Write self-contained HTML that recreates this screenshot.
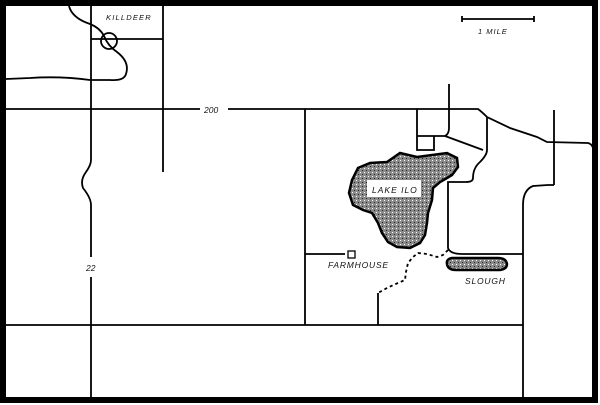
<!DOCTYPE html>
<html><head><style>
html,body{margin:0;padding:0;background:#fff;}
svg{display:block;}
text{font-family:"Liberation Sans",sans-serif;font-style:italic;fill:#111;}
</style></head><body>
<svg width="600" height="405" viewBox="0 0 600 405" xmlns="http://www.w3.org/2000/svg">
<defs>
<pattern id="st" width="4" height="4" patternUnits="userSpaceOnUse">
<rect width="4" height="4" fill="#8a8a8a"/>
<rect x="0" y="0" width="1" height="1" fill="#fff"/>
<rect x="2" y="2" width="1" height="1" fill="#222"/>
</pattern>
</defs>
<rect x="3" y="3" width="592" height="397" fill="none" stroke="#000" stroke-width="6"/>
<g fill="none" stroke="#000" stroke-width="1.8">
<path d="M6 109 H200 M228 109 H478 Q482 112 487 117 L510 128 L537 137 L547 142 L588 143 Q592 144 593 148"/>
<path d="M91 6 V160 Q91 165 86 172 Q80 180 83 188 Q91 198 91 205 V257 M91 277 V398"/>
<path d="M163 6 V172 M91 39 H163"/>
<circle cx="109" cy="41" r="8"/>
<path d="M69 6 Q72 18 90 24 Q100 28 104 36 Q108 46 117 52 Q130 62 126 74 Q124 81 110 80 Q96 80 90 80 Q60 76 30 78 L6 79"/>
<path d="M305 109 V325 M305 254 H345"/>
<rect x="348" y="251" width="7" height="7" stroke-width="1.3"/>
<path d="M6 325 H523"/>
<path d="M523 398 V205 Q523 190 533 186 L548 185 H554 M554 110 V185"/>
<path d="M417 109 V150 H434 V136 M417 136 H445 Q449 134 449 128 V84"/>
<path d="M445 136 L483 150 M487 117 V150 Q487 155 480 162 Q473 168 473 178 Q473 182 466 182 H448 V248 Q450 254 462 254 H523"/>
<path d="M378 293 V325"/>
<path d="M448 250 L443 255 L437 257 L427 254 L418 253 L413 257 L408 263 L406 272 L405 280 L398 283 L387 288 L378 293" stroke-dasharray="3 3"/>
<path d="M462 19 H534 M462 16 V22 M534 16 V22"/>
</g>
<path d="M400 153 L417 157 L447 153 L457 158 L458 167 L452 175 L447 178 L440 182 L433 188 L432 200 L428 213 L427 223 L425 235 L420 243 L410 248 L397 247 L388 242 L382 233 L378 223 L372 213 L363 210 L353 205 L349 193 L352 180 L358 168 L370 163 L387 162 Z" fill="url(#st)" stroke="#000" stroke-width="2.5"/>
<rect x="367" y="180" width="54" height="17" fill="#fff"/>
<path d="M452 258 Q446 259 447 264 Q448 270 456 270 L500 270 Q507 269 507 264 Q506 258 498 258 Z" fill="url(#st)" stroke="#000" stroke-width="2.5"/>
<g font-size="8.5">
<text x="106" y="20" letter-spacing="1.2" font-size="7.5">KILLDEER</text>
<text x="204" y="113">200</text>
<text x="86" y="271">22</text>
<text x="372" y="193" letter-spacing="1">LAKE ILO</text>
<text x="328" y="268" letter-spacing="0.8">FARMHOUSE</text>
<text x="465" y="284" letter-spacing="0.8">SLOUGH</text>
<text x="478" y="34" letter-spacing="1" font-size="7.5">1 MILE</text>
</g>
</svg>
</body></html>
